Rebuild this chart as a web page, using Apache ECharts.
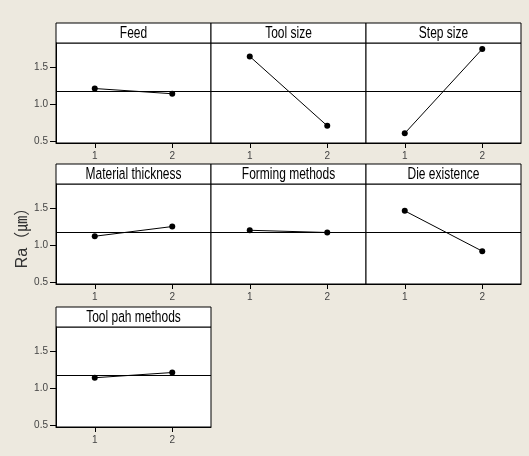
<!DOCTYPE html>
<html>
<head>
<meta charset="utf-8">
<script src="https://cdn.jsdelivr.net/npm/echarts@6/dist/echarts.min.js"></script>
<style>
html,body{margin:0;padding:0;background:#EDE9DF;}
#c{width:529px;height:456px;}
</style>
</head>
<body>
<div id="c"></div>
<script>
// ---- data ----
var factors = ['Feed', 'Tool size', 'Step size', 'Material thickness', 'Forming methods', 'Die existence', 'Tool pah methods'];
var levels = [1, 2];
var feed = [1.21, 1.14];
var toolSize = [1.64, 0.71];
var stepSize = [0.61, 1.74];
var materialThickness = [1.12, 1.25];
var formingMethods = [1.20, 1.17];
var dieExistence = [1.46, 0.92];
var toolPathMethods = [1.14, 1.21];
var grandMean = 1.18;
var yTicks = [0.5, 1.0, 1.5];
var yLabel = 'Ra（㎛）';

var means = [feed, toolSize, stepSize, materialThickness, formingMethods, dieExistence, toolPathMethods];

// ---- layout ----
var colLeft = [56, 211, 366];
var panelW = 155;
var headerTop = [23, 164, 307];
var headerH = 20;
var plotH = 100;
var titleFont = '"Liberation Sans", Arial, sans-serif';
var tickFont = '"Liberation Sans", Arial, sans-serif';

var grids = [], xAxes = [], yAxes = [], series = [], graphics = [];
factors.forEach(function (name, i) {
  var r = Math.floor(i / 3), c = i % 3;
  var left = colLeft[c], top = headerTop[r] + headerH;
  grids.push({left: left, top: top, width: panelW, height: plotH,
    show: true, backgroundColor: '#fff', borderColor: '#000', borderWidth: 1});
  xAxes.push({type: 'value', gridIndex: i, min: 0.5, max: 2.5,
    axisLine: {show: true, onZero: false, lineStyle: {color: '#000', width: 1}},
    axisTick: {show: true, length: 5, customValues: levels, lineStyle: {color: '#000'}},
    axisLabel: {show: true, customValues: levels, margin: 8, color: '#444', fontSize: 10, fontFamily: tickFont,
      formatter: function (v) { return String(v); }},
    splitLine: {show: false}});
  var isLeft = (c === 0);
  var ya = {type: 'value', gridIndex: i, min: 0.48, max: 1.82,
    axisLine: {show: isLeft, lineStyle: {color: '#000', width: 1}},
    axisTick: {show: isLeft, length: 6, customValues: yTicks, lineStyle: {color: '#000'}},
    axisLabel: {show: isLeft, customValues: yTicks, margin: 8, color: '#444', fontSize: 10, fontFamily: tickFont,
      formatter: function (v) { return v.toFixed(1); }},
    splitLine: {show: false}};
  if (i === 3) {
    ya.name = yLabel;
    ya.nameLocation = 'middle';
    ya.nameGap = 25;
    ya.nameTextStyle = {fontSize: 16, color: '#333', fontFamily: '"Liberation Sans", "Noto Sans CJK KR", sans-serif'};
  }
  yAxes.push(ya);
  series.push({type: 'line', xAxisIndex: i, yAxisIndex: i,
    data: levels.map(function (l, k) { return [l, means[i][k]]; }),
    symbol: 'circle', symbolSize: 6, itemStyle: {color: '#000'},
    lineStyle: {color: '#000', width: 1}, silent: true,
    markLine: {silent: true, symbol: 'none', label: {show: false},
      lineStyle: {color: '#000', width: 1, type: 'solid'},
      data: [{yAxis: grandMean}]}});
  graphics.push({type: 'rect', shape: {x: left, y: headerTop[r], width: panelW, height: headerH},
    style: {fill: '#fff', stroke: '#000', lineWidth: 1}});
  graphics.push({type: 'text', x: left + panelW / 2, y: headerTop[r] + headerH / 2 + 1,
    scaleX: 0.8, scaleY: 1.05,
    style: {text: name, fill: '#000', font: '15px ' + titleFont, textAlign: 'center', textVerticalAlign: 'middle'}});
});

var chart = echarts.init(document.getElementById('c'), null, {renderer: 'canvas'});
chart.setOption({
  animation: false,
  backgroundColor: '#EDE9DF',
  grid: grids, xAxis: xAxes, yAxis: yAxes, series: series, graphic: graphics
});
</script>
</body>
</html>
